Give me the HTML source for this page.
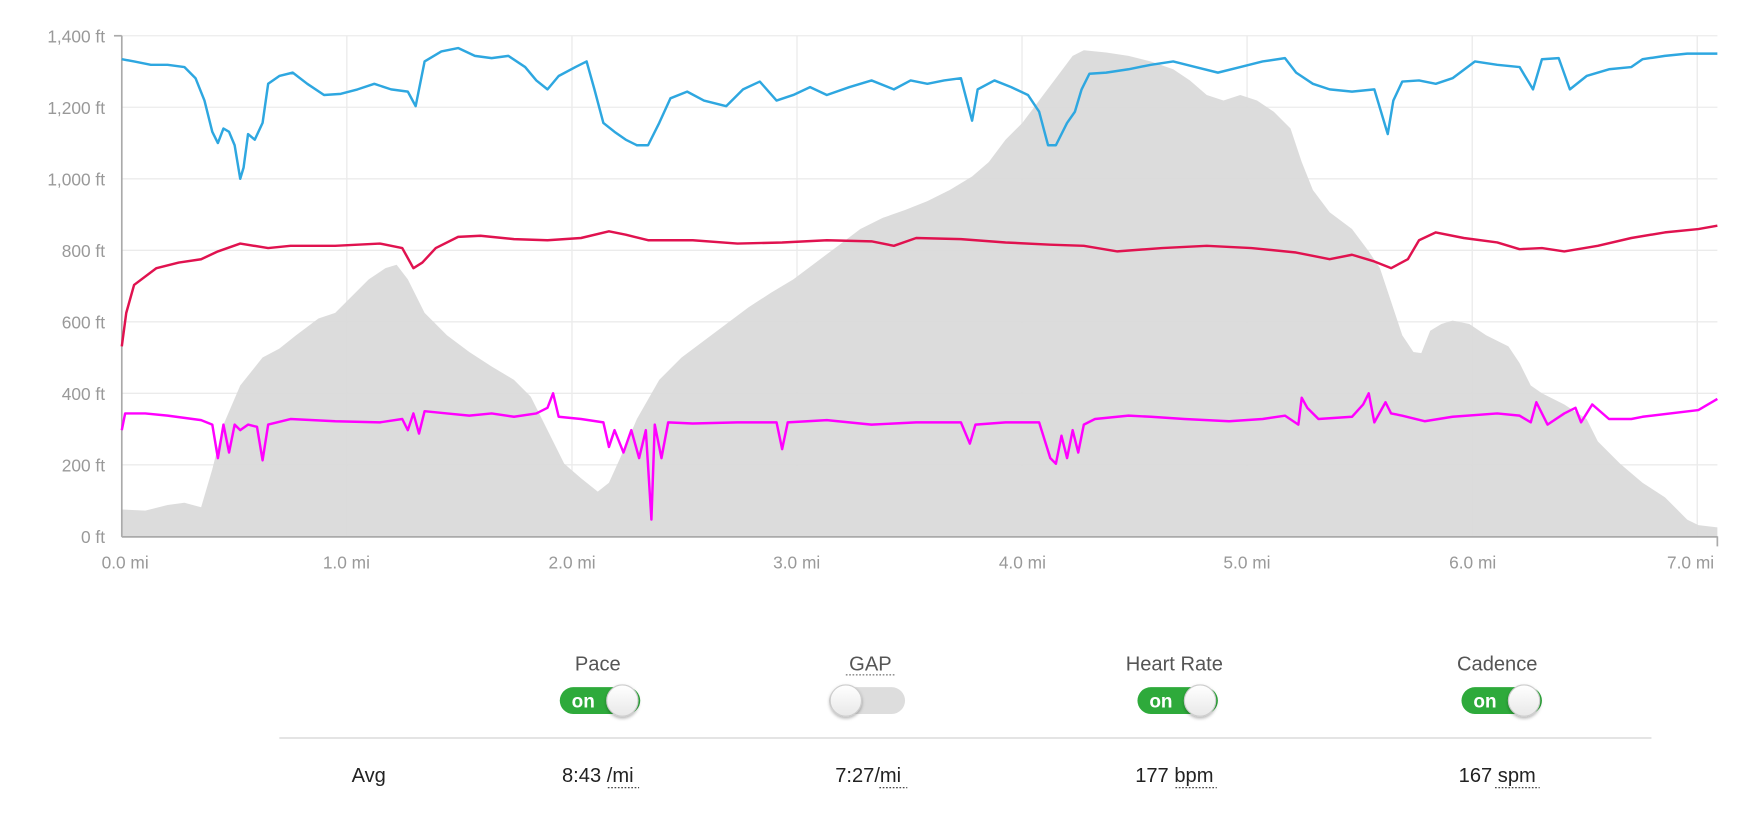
<!DOCTYPE html>
<html><head><meta charset="utf-8"><style>
html,body{margin:0;padding:0;background:#fff;}
svg{display:block;font-family:"Liberation Sans",Arial,sans-serif;}
</style></head><body>
<svg width="1752" height="826" viewBox="0 0 1568 739.25" xmlns="http://www.w3.org/2000/svg">
<defs>
<filter id="sh" x="-50%" y="-50%" width="200%" height="200%"><feDropShadow dx="0" dy="1.5" stdDeviation="1.5" flood-color="#000" flood-opacity="0.3"/></filter>
<linearGradient id="kg" x1="0" y1="0" x2="0" y2="1"><stop offset="0" stop-color="#fff"/><stop offset="1" stop-color="#e8e8e8"/></linearGradient>
</defs>
<!-- grid -->
<g stroke="#ebebeb" stroke-width="1.2">
<line x1="109" y1="32" x2="1537" y2="32"/><line x1="109" y1="96" x2="1537" y2="96"/>
<line x1="109" y1="160" x2="1537" y2="160"/><line x1="109" y1="224" x2="1537" y2="224"/>
<line x1="109" y1="288" x2="1537" y2="288"/><line x1="109" y1="352" x2="1537" y2="352"/>
<line x1="109" y1="416" x2="1537" y2="416"/>
<line x1="310.4" y1="32" x2="310.4" y2="480"/><line x1="511.9" y1="32" x2="511.9" y2="480"/>
<line x1="713.3" y1="32" x2="713.3" y2="480"/><line x1="914.7" y1="32" x2="914.7" y2="480"/>
<line x1="1116.1" y1="32" x2="1116.1" y2="480"/><line x1="1317.6" y1="32" x2="1317.6" y2="480"/>
<line x1="1519" y1="32" x2="1519" y2="480"/>
</g>
<!-- elevation -->
<polygon fill="#d9d9d9" fill-opacity="0.92" points="109,456 130,457 150,452 165,450 180,454 190,420 200,380 215,345 235,320 250,312 265,300 285,285 300,280 315,265 330,250 345,240 355,237 365,250 380,280 400,300 420,315 440,328 460,340 475,355 490,385 505,415 520,428 535,440 545,432 555,410 570,375 590,340 610,320 630,305 650,290 670,275 690,262 710,250 730,235 750,220 770,205 790,195 810,188 830,180 850,170 870,158 885,145 900,125 915,110 930,90 945,70 960,50 970,45 990,47 1010,50 1030,55 1050,62 1065,72 1080,85 1095,90 1110,85 1125,90 1140,100 1155,115 1165,145 1175,170 1190,190 1210,205 1225,225 1235,240 1245,270 1255,300 1265,315 1272,316 1280,296 1290,290 1300,287 1315,290 1330,300 1350,310 1360,325 1370,345 1380,352 1400,362 1420,375 1430,395 1450,415 1470,432 1490,445 1510,465 1520,470 1537,472 1537,480 109,480"/>
<!-- axes -->
<g stroke="#aaa" stroke-width="1.5">
<line x1="109" y1="32" x2="109" y2="480.5"/><line x1="102" y1="32" x2="109" y2="32"/>
<line x1="109" y1="480.5" x2="1537" y2="480.5"/><line x1="1537" y1="480" x2="1537" y2="489"/>
</g>
<g fill="#999" font-size="15.5" text-anchor="end">
<text x="94" y="38">1,400 ft</text><text x="94" y="102">1,200 ft</text><text x="94" y="166">1,000 ft</text>
<text x="94" y="230">800 ft</text><text x="94" y="294">600 ft</text><text x="94" y="358">400 ft</text>
<text x="94" y="422">200 ft</text><text x="94" y="486">0 ft</text>
</g>
<g fill="#999" font-size="15.5" text-anchor="middle">
<text x="112" y="509">0.0 mi</text><text x="310" y="509">1.0 mi</text><text x="512" y="509">2.0 mi</text>
<text x="713" y="509">3.0 mi</text><text x="915" y="509">4.0 mi</text><text x="1116" y="509">5.0 mi</text>
<text x="1318" y="509">6.0 mi</text><text x="1513" y="509">7.0 mi</text>
</g>
<g fill="none" stroke-width="2.2" stroke-linejoin="round">
<polyline stroke="#2ea7e0" points="109,53 120,55 135,58 150,58 165,60 175,70 183,90 190,118 195,128 200,115 205,118 210,130 215,160 218,150 222,120 228,125 235,110 240,75 250,68 262,65 275,75 290,85 305,84 320,80 335,75 350,80 365,82 372,95 380,55 395,46 410,43 425,50 440,52 455,50 470,60 480,72 490,80 500,68 515,60 525,55 532,80 540,110 550,118 560,125 570,130 580,130 590,110 600,88 615,82 630,90 650,95 665,80 680,73 695,90 710,85 725,78 740,85 760,78 780,72 800,80 815,72 830,75 845,72 860,70 870,108 875,80 890,72 905,78 920,85 930,100 938,130 945,130 955,110 962,100 968,80 975,66 990,65 1010,62 1030,58 1050,55 1070,60 1090,65 1110,60 1130,55 1150,52 1160,65 1175,75 1190,80 1210,82 1230,80 1242,120 1247,90 1255,73 1270,72 1285,75 1300,70 1320,55 1340,58 1360,60 1372,80 1380,53 1395,52 1405,80 1420,68 1440,62 1460,60 1470,53 1490,50 1510,48 1537,48"/>
<polyline stroke="#e0124f" points="109,310 113,280 120,255 140,240 160,235 180,232 195,225 215,218 240,222 260,220 300,220 340,218 360,222 370,240 378,235 390,222 410,212 430,211 460,214 490,215 520,213 545,207 560,210 580,215 620,215 660,218 700,217 740,215 780,216 800,220 820,213 860,214 900,217 940,219 970,220 1000,225 1040,222 1080,220 1120,222 1160,226 1190,232 1210,228 1230,234 1245,240 1260,232 1270,215 1285,208 1310,213 1340,217 1360,223 1380,222 1400,225 1430,220 1460,213 1490,208 1520,205 1537,202"/>
<polyline stroke="#ff00ff" points="109,385 112,370 130,370 150,372 180,376 190,380 195,410 200,380 205,405 210,380 215,385 222,380 230,382 235,412 240,380 260,375 300,377 340,378 360,375 365,385 370,370 375,388 380,368 400,370 420,372 440,370 460,373 480,370 490,365 495,352 500,373 520,375 540,378 545,400 550,385 558,405 565,385 572,410 578,385 583,465 586,380 592,410 598,378 620,379 660,378 695,378 700,402 705,378 740,376 780,380 820,378 860,378 868,397 873,380 900,378 930,378 940,410 945,415 950,390 955,410 960,385 965,405 970,380 980,375 1010,372 1030,373 1060,375 1100,377 1130,375 1150,372 1162,380 1165,356 1170,365 1180,375 1210,373 1220,362 1225,352 1230,378 1240,360 1245,370 1255,372 1275,377 1300,373 1340,370 1360,372 1370,378 1375,360 1385,380 1400,370 1410,365 1415,378 1425,362 1440,375 1460,375 1470,373 1520,367 1537,357"/>
</g>
<!-- legend -->
<g fill="#555" font-size="18" text-anchor="middle">
<text x="535" y="600">Pace</text><text x="779" y="600">GAP</text>
<text x="1051" y="600">Heart Rate</text><text x="1340" y="600">Cadence</text>
</g>
<line x1="757" y1="604" x2="801" y2="604" stroke="#555" stroke-width="1" stroke-dasharray="1.5,1.5"/>
<g>
<rect x="501" y="615" width="72" height="24" rx="12" fill="#2eaa3b"/>
<text x="522" y="633" fill="#fff" font-size="17" font-weight="bold" text-anchor="middle">on</text>
<circle cx="557" cy="627" r="14" fill="url(#kg)" stroke="#ccc" filter="url(#sh)"/>
<rect x="742" y="615" width="68" height="24" rx="12" fill="#ddd"/>
<circle cx="757" cy="627" r="14" fill="url(#kg)" stroke="#ccc" filter="url(#sh)"/>
<rect x="1018" y="615" width="72" height="24" rx="12" fill="#2eaa3b"/>
<text x="1039" y="633" fill="#fff" font-size="17" font-weight="bold" text-anchor="middle">on</text>
<circle cx="1074" cy="627" r="14" fill="url(#kg)" stroke="#ccc" filter="url(#sh)"/>
<rect x="1308" y="615" width="72" height="24" rx="12" fill="#2eaa3b"/>
<text x="1329" y="633" fill="#fff" font-size="17" font-weight="bold" text-anchor="middle">on</text>
<circle cx="1364" cy="627" r="14" fill="url(#kg)" stroke="#ccc" filter="url(#sh)"/>
</g>
<line x1="250" y1="660.5" x2="1478" y2="660.5" stroke="#e0e0e0" stroke-width="1.5"/>
<g fill="#222" font-size="18" text-anchor="middle">
<text x="330" y="700">Avg</text>
<text x="535" y="700">8:43 /mi</text><text x="777" y="700">7:27/mi</text>
<text x="1051" y="700">177 bpm</text><text x="1340" y="700">167 spm</text>
</g>
<g stroke="#333" stroke-width="1" stroke-dasharray="1.5,1.5">
<line x1="544" y1="705" x2="572" y2="705"/><line x1="787" y1="705" x2="812" y2="705"/>
<line x1="1052" y1="705" x2="1089" y2="705"/><line x1="1338" y1="705" x2="1378" y2="705"/>
</g>
</svg>
</body></html>
